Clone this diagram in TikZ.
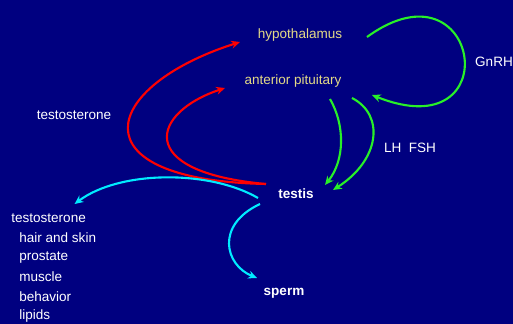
\documentclass[tikz,border=0pt]{standalone}
\usepackage{fontspec}
\setmainfont{Liberation Sans}
\usepackage{xcolor}
\definecolor{slidenavy}{RGB}{0, 0, 128}
\definecolor{slideyellow}{RGB}{228, 218, 135}
\definecolor{slidered}{RGB}{255, 0, 0}
\definecolor{slidegreen}{RGB}{40, 240, 40}
\definecolor{slidecyan}{RGB}{0, 235, 255}
\usetikzlibrary{arrows.meta, calc}

\begin{document}
\begin{tikzpicture}[x=0.02cm, y=-0.02cm, >={Stealth[length=5pt, width=4.5pt]},
    lbl/.style={inner sep=0pt, font=\fontsize{7.7}{9}\selectfont},
    hormone/.style={very thick, ->}]

% === Fondo ===
\useasboundingbox (0,0) rectangle (513,324);
\fill[slidenavy] (0,0) rectangle (513,324);

% === Organos ===
\node[lbl, slideyellow] (hypo) at (300,35) {hypothalamus};
\node[lbl, slideyellow] (antpit) at (293,81) {anterior pituitary};
\node[lbl, white, font=\fontsize{7.7}{9}\selectfont\bfseries] (testis) at (296,194) {testis};
\node[lbl, white, font=\fontsize{7.7}{9}\selectfont\bfseries] (sperm) at (284,293) {sperm};

% Etiquetas
\node[lbl, white] (testotop) at (74,115) {testosterone};
\node[lbl, white] (gnrh) at (494,62) {GnRH};
\node[lbl, white] (lhfsh) at (410,148) {LH\ \ FSH};

% Lista de efectos
\node[lbl, white, anchor=west] (testo) at (11,218) {testosterone};
\node[lbl, white, anchor=west] (hair) at (19,238) {hair and skin};
\node[lbl, white, anchor=west] (prostate) at (19,258) {prostate};
\node[lbl, white, anchor=west] (muscle) at (19,277) {muscle};
\node[lbl, white, anchor=west] (behavior) at (19,297) {behavior};
\node[lbl, white, anchor=west] (lipids) at (19,316) {lipids};

% === Retroalimentacion (rojo) ===
\draw[hormone, slidered] ($(testis)+(-30,-10)$) .. controls (72,180) and (102,86) .. ($(hypo)+(-60,7)$);
\draw[hormone, slidered] ($(testis)+(-30,-10)$) .. controls (132,172) and (152,112) .. ($(antpit)+(-68,7)$);

% === GnRH, LH y FSH (verde) ===
\draw[hormone, slidegreen] ($(hypo)+(67,2)$) .. controls (480,-45) and (510,150) .. ($(antpit)+(79,14)$);
\draw[hormone, slidegreen] ($(antpit)+(37,18)$) .. controls (345,125) and (345,160) .. ($(testis)+(29,-9)$);
\draw[hormone, slidegreen] ($(antpit)+(59,17)$) .. controls (385,115) and (380,160) .. ($(testis)+(37,-4)$);

% === Salidas del testiculo (cian) ===
\draw[hormone, slidecyan] ($(testis)+(-38,4)$) .. controls (210,170) and (120,170) .. ($(testo)+(26,-14)$);
\draw[hormone, slidecyan] ($(testis)+(-36,10)$) .. controls (215,225) and (225,265) .. ($(sperm)+(-27,-15)$);

\end{tikzpicture}
\end{document}
